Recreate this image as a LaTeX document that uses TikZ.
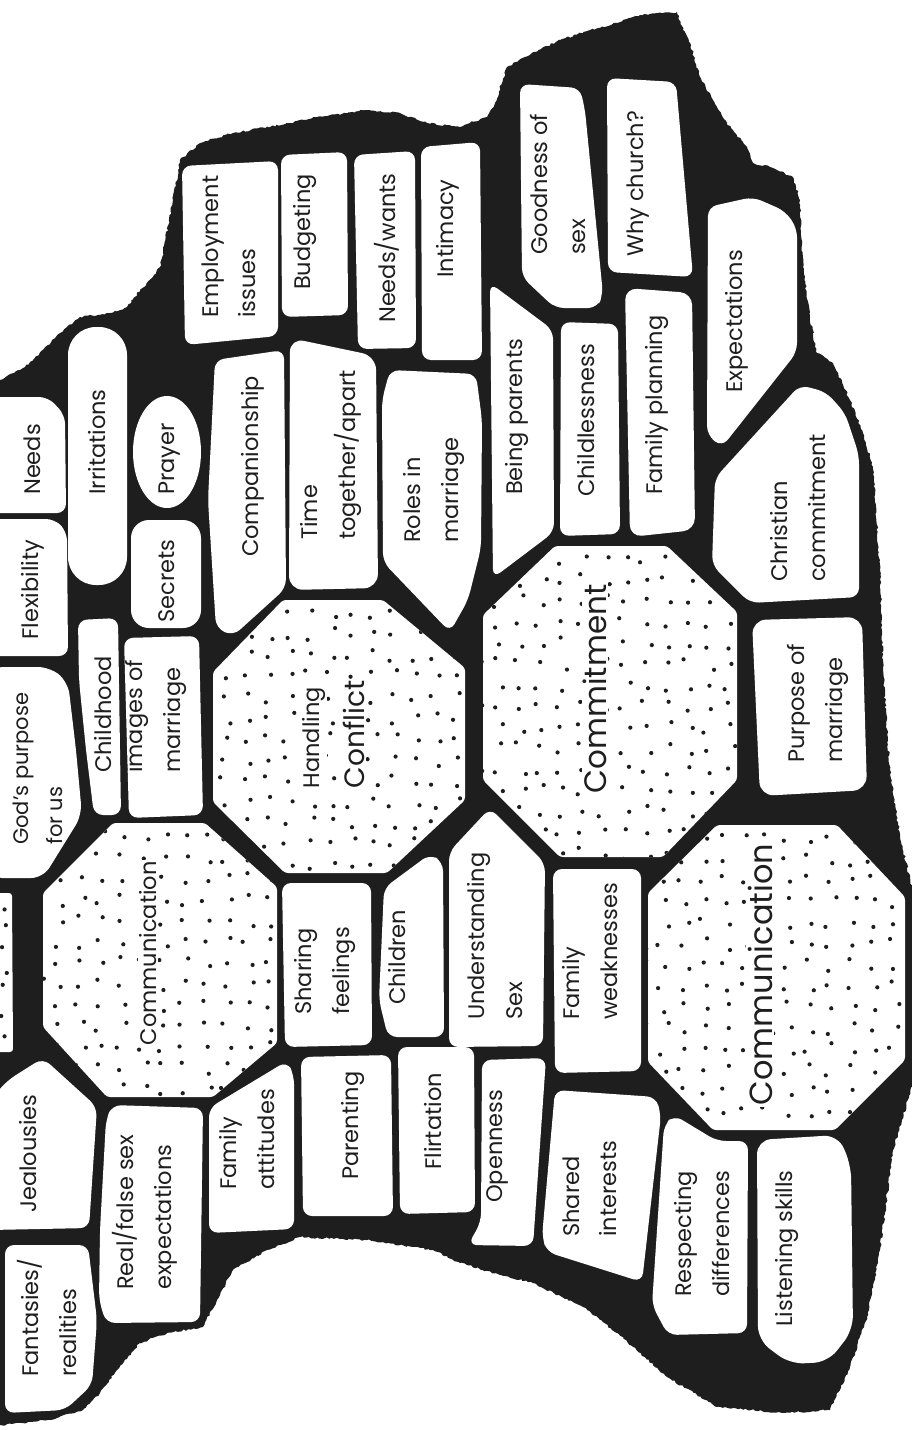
\documentclass[tikz,border=0pt]{standalone}
\usepackage{fontspec}
\setmainfont{Poppins}
\usetikzlibrary{decorations.pathmorphing}
\definecolor{ink}{HTML}{1E1E1E}
\begin{document}
\begin{tikzpicture}[x=1pt,y=-1pt,
  stone/.style={fill=white, rounded corners=9pt},
  octo/.style={fill=white, rounded corners=3pt},
  lbl/.style={rotate=90, anchor=west, align=left, inner sep=0pt, text=ink,
    font=\fontsize{22.5}{37.5}\selectfont},
  olbl/.style={lbl, fill=white, inner sep=1.5pt},
  dot/.style={fill=ink}]
\useasboundingbox (0,0) rectangle (912,1430);
\clip (0,0) rectangle (912,1430);
\pgfmathsetseed{11}
% ---------- the wall ----------
\fill[ink, decorate, decoration={random steps, segment length=2.5pt, amplitude=1pt}]
 (-10,380) -- (0,380) -- (20,370) -- (33,360) -- (60,333) -- (80,317) -- (110,313)
 -- (127,307) -- (140,290) -- (153,277) -- (160,267) -- (173,200) -- (180,160)
 -- (200,143) -- (233,133) -- (290,123) -- (317,117) -- (367,110) -- (400,113)
 -- (427,123) -- (460,127) -- (470,123) -- (487,117) -- (495,103) -- (507,67)
 -- (525,57) -- (560,40) -- (590,30) -- (617,23) -- (640,15) -- (677,12)
 -- (683,30) -- (690,43) -- (700,77) -- (713,100) -- (727,123) -- (747,147)
 -- (753,163) -- (770,167) -- (793,177) -- (800,200) -- (803,267) -- (810,317)
 -- (817,353) -- (833,363) -- (850,400) -- (863,433) -- (873,467) -- (880,570)
 -- (883,670) -- (890,770) -- (900,837) -- (915,900) -- (920,950) -- (920,1060)
 -- (893,1150) -- (880,1250) -- (867,1317) -- (850,1367) -- (830,1410)
 -- (783,1413) -- (717,1407) -- (667,1377) -- (617,1333) -- (583,1307)
 -- (533,1283) -- (483,1270) -- (460,1263) -- (433,1250) -- (367,1240)
 -- (300,1237) -- (267,1250) -- (233,1270) -- (217,1300) -- (203,1327)
 -- (167,1333) -- (140,1343) -- (117,1370) -- (100,1393) -- (83,1410)
 -- (50,1420) -- (0,1425) -- (-10,1425) -- cycle;
% ---------- stones ----------
\fill[stone] (182,166) -- (278,161) -- (278,336) -- (185,345) -- cycle; % employment
\fill[stone] (281,155) -- (347,152) -- (348,315) -- (282,317) -- cycle; % budgeting
\fill[stone] (354,155) -- (415,151) -- (416,348) -- (358,349) -- cycle; % needs/wants
\fill[stone] (421,147) -- (480,142) -- (482,360) -- (422,360) -- cycle; % intimacy
\fill[stone] (520,84) -- (580,88) -- (585,110) -- (603,295) -- (597,308) -- (555,308) -- (522,277) -- cycle; % goodness
\fill[stone] (607,78) -- (676,82) -- (693,277) -- (608,272) -- cycle; % why church
\fill[stone] (708,207) -- (753,197) -- (785,211) -- (797,228) -- (797,352) -- (722,447) -- (707,435) -- cycle; % expectations
\fill[stone] (715,478) -- (800,385) -- (826,392) -- (845,413) -- (859,455) -- (859,597) -- (750,603) -- (712,565) -- cycle; % christian
\fill[stone,rounded corners=14pt] (752,620) -- (862,617) -- (867,790) -- (760,796) -- cycle; % purpose
\fill[stone] (215,360) -- (284,350) -- (286,588) -- (233,636) -- (216,628) -- (208,500) -- cycle; % companionship
\fill[stone,rounded corners=14pt] (290,338) -- (376,356) -- (378,588) -- (289,590) -- cycle; % time
\fill[stone] (390,370) -- (476,374) -- (482,420) -- (481,548) -- (468,600) -- (450,632) -- (383,562) -- (382,400) -- cycle; % roles
\fill[stone] (490,283) -- (553,330) -- (554,532) -- (493,578) -- cycle; % being parents
\fill[stone] (561,322) -- (618,324) -- (620,534) -- (560,536) -- cycle; % childlessness
\fill[stone,rounded corners=12pt] (625,288) -- (692,293) -- (695,530) -- (630,537) -- cycle; % family planning
\fill[stone] (-10,397) -- (48,397) -- (65,415) -- (66,513) -- (-10,513) -- cycle; % needs
\fill[stone] (-10,519) -- (55,519) -- (67,532) -- (68,656) -- (-10,656) -- cycle; % flexibility
\fill[stone,rounded corners=12pt] (-10,667) -- (50,667) -- (68,682) -- (76,750) -- (82,815) -- (43,878) -- (-10,878) -- cycle; % god's purpose
\fill[white,rounded corners=28pt] (68,327) rectangle (127,585); % irritations
\fill[white] (167,452) ellipse [x radius=34, y radius=56]; % prayer
\fill[white,rounded corners=18pt] (131,520) rectangle (201,628); % secrets
\fill[stone] (78,620) -- (118,618) -- (121,815) -- (94,815) -- (86,750) -- (79,680) -- cycle; % childhood
\fill[stone] (124,638) -- (199,636) -- (203,815) -- (129,818) -- cycle; % images
\fill[stone] (282,883) -- (371,883) -- (372,1045) -- (285,1047) -- cycle; % sharing
\fill[stone] (384,888) -- (430,854) -- (443,862) -- (444,1037) -- (388,1037) -- (379,1000) -- cycle; % children
\fill[stone] (449,852) -- (490,808) -- (545,863) -- (543,1046) -- (449,1047) -- cycle; % understanding
\fill[stone] (553,869) -- (641,869) -- (641,1071) -- (555,1073) -- cycle; % family weaknesses
\fill[stone] (209,1108) -- (287,1061) -- (294,1075) -- (294,1229) -- (209,1233) -- cycle; % family attitudes
\fill[stone] (301,1057) -- (391,1055) -- (393,1216) -- (303,1216) -- cycle; % parenting
\fill[stone] (398,1047) -- (474,1047) -- (475,1212) -- (400,1214) -- cycle; % flirtation
\fill[stone] (482,1060) -- (546,1058) -- (533,1246) -- (468,1245) -- (481,1222) -- cycle; % openness
\fill[stone] (555,1090) -- (656,1097) -- (661,1115) -- (642,1282) -- (547,1252) -- (542,1237) -- cycle; % shared
\fill[stone] (674,1115) -- (717,1141) -- (748,1141) -- (747,1333) -- (668,1335) -- (652,1305) -- (664,1125) -- cycle; % respecting
\fill[stone,rounded corners=14pt] (757,1140) -- (838,1135) -- (851,1165) -- (853,1330) -- (828,1362) -- (790,1364) -- (758,1340) -- cycle; % listening
\fill[stone] (112,1105) -- (203,1108) -- (200,1322) -- (106,1323) -- (99,1300) -- (100,1230) -- (106,1120) -- cycle; % real/false
\fill[stone] (-10,1100) -- (8,1080) -- (43,1058) -- (97,1107) -- (89,1228) -- (-10,1230) -- cycle; % jealousies
\fill[stone] (5,1245) -- (88,1245) -- (97,1320) -- (92,1385) -- (65,1410) -- (5,1413) -- cycle; % fantasies
% ---------- dotted octagons ----------
\fill[octo] (-20,893) -- (12,893) -- (13,1052) -- (-20,1052) -- cycle;
\begin{scope}
 \clip (-20,893) -- (12,893) -- (13,1052) -- (-20,1052) -- cycle;
 \foreach \xx in {-15,4}{\foreach \yy in {905,926,...,1050}{\fill[dot] ({\xx+3*rand},{\yy+6*rand}) circle (2.1);}}
\end{scope}
\fill[octo] (283,600) -- (383,600) -- (465,668) -- (465,800) -- (387,873) -- (285,873) -- (213,802) -- (213,672) -- cycle;
\begin{scope}
 \clip (283,600) -- (383,600) -- (465,668) -- (465,800) -- (387,873) -- (285,873) -- (213,802) -- (213,672) -- cycle;
 \foreach \xx in {205,226,...,470}{\foreach \yy in {592,613,...,880}{\fill[dot] ({\xx+6*rand},{\yy+6*rand}) circle (2.1);}}
\end{scope}
\fill[octo] (555,546) -- (667,546) -- (737,612) -- (737,780) -- (663,857) -- (560,857) -- (483,780) -- (483,615) -- cycle;
\begin{scope}
 \clip (555,546) -- (667,546) -- (737,612) -- (737,780) -- (663,857) -- (560,857) -- (483,780) -- (483,615) -- cycle;
 \foreach \xx in {478,499,...,745}{\foreach \yy in {538,559,...,865}{\fill[dot] ({\xx+6*rand},{\yy+6*rand}) circle (2.1);}}
\end{scope}
\fill[octo] (717,825) -- (837,825) -- (905,897) -- (905,1060) -- (835,1130) -- (713,1130) -- (648,1062) -- (648,893) -- cycle;
\begin{scope}
 \clip (717,825) -- (837,825) -- (905,897) -- (905,1060) -- (835,1130) -- (713,1130) -- (648,1062) -- (648,893) -- cycle;
 \foreach \xx in {642,663,...,912}{\foreach \yy in {818,839,...,1135}{\fill[dot] ({\xx+6*rand},{\yy+6*rand}) circle (2.1);}}
\end{scope}
\fill[octo] (113,823) -- (205,823) -- (277,887) -- (277,1043) -- (213,1097) -- (107,1097) -- (43,1027) -- (43,893) -- cycle;
\begin{scope}
 \clip (113,823) -- (205,823) -- (277,887) -- (277,1043) -- (213,1097) -- (107,1097) -- (43,1027) -- (43,893) -- cycle;
 \foreach \xx in {38,59,...,282}{\foreach \yy in {816,837,...,1100}{\fill[dot] ({\xx+6*rand},{\yy+6*rand}) circle (2.1);}}
\end{scope}
% ---------- labels ----------
\node[lbl] (employ) at (229,318) {Employment\\issues};
\node[lbl] (budget) at (305,290) {Budgeting};
\node[lbl] (needw) at (387,323) {Needs/wants};
\node[lbl] (intim) at (448,278) {Intimacy};
\node[lbl] (good) at (558,255) {Goodness of\\sex};
\node[lbl] (why) at (638,257) {Why church?};
\node[lbl] (expect) at (737,393) {Expectations};
\node[lbl] (christ) at (798,582) {Christian\\commitment};
\node[lbl] (purp) at (818,763) {Purpose of\\marriage};
\node[olbl, font=\fontsize{32}{38}\selectfont] (comm) at (760,1107) {Communication};
\node[olbl, font=\fontsize{31}{38}\selectfont] (commit) at (595,795) {Commitment};
\node[olbl] (handl) at (314,790) {Handling};
\node[olbl, font=\fontsize{28}{38}\selectfont] (confl) at (354,790) {Conflict};
\node[olbl] (scomm) at (148,1047) {Communication};
\node[lbl] (needs) at (32,495) {Needs};
\node[lbl] (flex) at (33,640) {Flexibility};
\node[lbl] (irr) at (97,495) {Irritations};
\node[lbl] (pray) at (170,495) {Prayer};
\node[lbl] (secr) at (167,623) {Secrets};
\node[lbl] (child) at (103,773) {Childhood};
\node[lbl] (images) at (156,773) {images of\\marriage};
\node[lbl, font=\fontsize{21}{34}\selectfont] (god) at (38,845) {God's purpose\\for us};
\node[lbl] (compan) at (253,557) {Companionship};
\node[lbl] (time) at (331,540) {Time\\together/apart};
\node[lbl] (roles) at (434,543) {Roles in\\marriage};
\node[lbl] (beingp) at (517,495) {Being parents};
\node[lbl] (childl) at (586,497) {Childlessness};
\node[lbl] (famp) at (657,495) {Family planning};
\node[lbl] (share) at (325,1015) {Sharing\\feelings};
\node[lbl] (children) at (397,1005) {Children};
\node[lbl] (under) at (495,1020) {Understanding\\Sex};
\node[lbl] (famw) at (590,1020) {Family\\weaknesses};
\node[lbl] (fama) at (247,1190) {Family\\attitudes};
\node[lbl] (parent) at (353,1180) {Parenting};
\node[lbl] (flirt) at (433,1170) {Flirtation};
\node[lbl] (open) at (497,1203) {Openness};
\node[lbl] (shared) at (590,1237) {Shared\\interests};
\node[lbl] (respect) at (702,1297) {Respecting\\differences};
\node[lbl] (listen) at (787,1327) {Listening skills};
\node[lbl] (real) at (145,1290) {Real/false sex\\expectations};
\node[lbl] (jeal) at (28,1213) {Jealousies};
\node[lbl] (fant) at (47,1377) {Fantasies/\\realities};
\end{tikzpicture}
\end{document}
